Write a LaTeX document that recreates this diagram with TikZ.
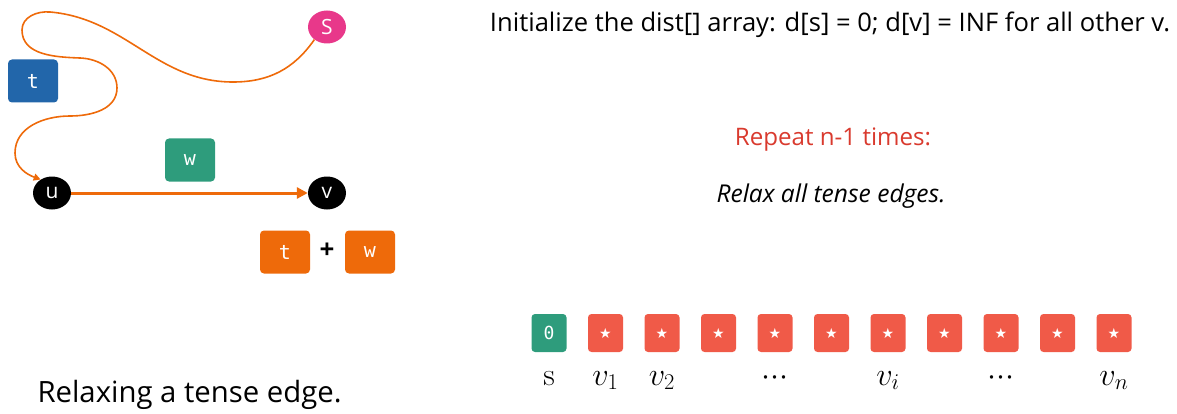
\documentclass[tikz,border=0pt]{standalone}
\usepackage{fontspec}
\setmainfont{Open Sans}
\setmonofont{DejaVu Sans Mono}
\newfontfamily\lmroman{Latin Modern Roman}
\newfontfamily\symbolfont{DejaVu Sans}
\usetikzlibrary{arrows.meta,shapes.geometric}
\definecolor{srcpink}{HTML}{E8388A}
\definecolor{tblue}{HTML}{2266AA}
\definecolor{wgreen}{HTML}{2E9C7C}
\definecolor{edgeorange}{HTML}{EE6A0A}
\definecolor{cellred}{HTML}{F05A48}
\definecolor{headred}{HTML}{D93A2E}
\begin{document}
\begin{tikzpicture}[x=1pt,y=1pt,
  vertex/.style={ellipse, minimum width=38, minimum height=33, inner sep=0pt, fill=black, text=white, font=\fontsize{21}{21}\selectfont},
  tag/.style={rounded corners=4pt, minimum width=50, minimum height=43, inner sep=0pt, text=white, font=\ttfamily\fontsize{20}{20}\selectfont},
  cell/.style={rounded corners=3.5pt, minimum width=35, minimum height=38, inner sep=0pt, fill=cellred, text=white, font=\symbolfont\fontsize{14}{14}\selectfont},
  caption/.style={anchor=base, font=\fontsize{24}{24}\selectfont},
  path/.style={draw=edgeorange, line width=1.6pt},
  relax/.style={draw=edgeorange, line width=3pt, -{Triangle[length=11pt,width=11pt]}}
]
\useasboundingbox (0,0) rectangle (1177,413);

% ---- left: relaxing a tense edge ----
\node[vertex, fill=srcpink] (s) at (327,386) {S};
\node[vertex] (u) at (52,220) {u};
\node[vertex] (v) at (327,220) {v};
\node[tag, fill=tblue] (t) at (33,332) {t};
\node[tag, fill=wgreen] (w) at (190,253) {w};

\coordinate (p1) at (233,331);
\coordinate (p2) at (50,401);
\coordinate (p3) at (22,383);
\coordinate (p4) at (80,355);
\coordinate (p5) at (117,325);
\coordinate (p6) at (70,297);
\coordinate (p7) at (15,260);

\draw[path, -{Triangle[length=7pt,width=7pt]}]
  (s.225) to[out=235,in=0] (p1)
  to[out=180,in=-5] (p2)
  to[out=175,in=90] (p3)
  to[out=-90,in=178] (p4)
  to[out=-2,in=90] (p5)
  to[out=-90,in=0] (p6)
  to[out=180,in=90] (p7)
  to[out=-90,in=160] (u.130);

\draw[relax] (u) -- (v);

\node[tag, fill=edgeorange] (tw1) at (285,161) {t};
\node[font=\bfseries\fontsize{26}{26}\selectfont] (plus) at (327,162) {+};
\node[tag, fill=edgeorange] (tw2) at (370,161) {w};

\node[anchor=base west] (cap) at (34,11)
  {\resizebox{304pt}{!}{Relaxing a tense edge.}};

% ---- right: the algorithm ----
\node (init) at (830,388)
  {\resizebox{680pt}{!}{Initialize the dist[] array: d[s] = 0; d[v] = INF for all other v.}};
\node[text=headred] (rep) at (833,273) {\resizebox{196pt}{!}{Repeat n-1 times:}};
\node (rel) at (831,217) {\resizebox{229pt}{!}{\itshape Relax all tense edges.}};

\node[cell, fill=wgreen, font=\ttfamily\fontsize{18}{18}\selectfont] (c0) at (549,80) {0};
\foreach \i in {1,...,10} {
  \node[cell] (c\i) at (549+56.5*\i,80) {★};
}

\node[caption] (l0) at ([yshift=-52]c0.center) {\lmroman\fontsize{32}{32}\selectfont s};
\node[caption] (l1) at ([yshift=-52]c1.center) {\scalebox{1.3}{$v_1$}};
\node[caption] (l2) at ([yshift=-52]c2.center) {\scalebox{1.3}{$v_2$}};
\node[caption] (l4) at ([yshift=-52]c4.center) {\scalebox{1.3}{$\cdotp\!\cdotp\!\cdotp$}};
\node[caption] (l6) at ([yshift=-52]c6.center) {\scalebox{1.3}{$v_i$}};
\node[caption] (l8) at ([yshift=-52]c8.center) {\scalebox{1.3}{$\cdotp\!\cdotp\!\cdotp$}};
\node[caption] (l10) at ([yshift=-52]c10.center) {\scalebox{1.3}{$v_n$}};
\end{tikzpicture}
\end{document}
